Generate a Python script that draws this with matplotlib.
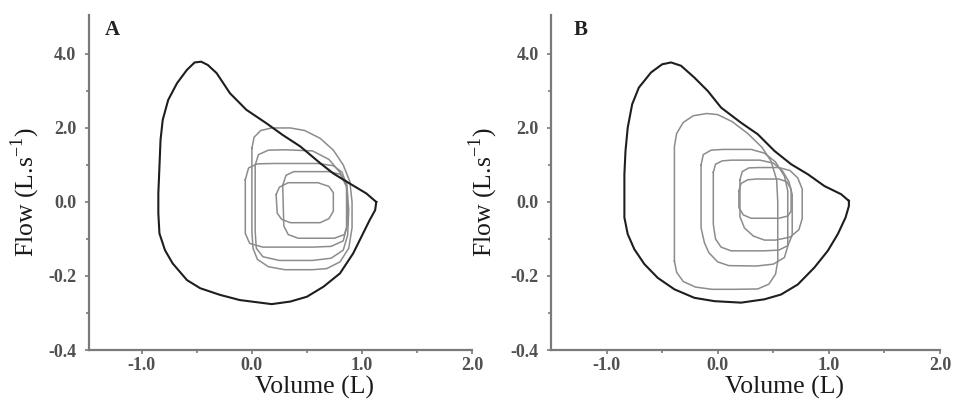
import matplotlib
matplotlib.use("Agg")
import matplotlib.pyplot as plt
from matplotlib.ticker import FixedLocator

plt.rcParams['font.family'] = ['Liberation Serif', 'DejaVu Serif']

# maximal flow-volume envelope (volume L, flow)
env_a_vol = [1.13, 1.04, 0.86, 0.74, 0.62, 0.44, 0.28, 0.13, -0.05, -0.20, -0.32, -0.40, -0.46, -0.52,
             -0.59, -0.68, -0.76, -0.81, -0.83, -0.84, -0.85, -0.85, -0.84, -0.79, -0.72, -0.59, -0.47,
             -0.29, -0.11, 0.18, 0.35, 0.50, 0.65, 0.80, 0.92, 1.01, 1.07, 1.12, 1.13]
env_a_flow = [0.0, 0.23, 0.55, 0.77, 1.05, 1.50, 1.81, 2.13, 2.49, 2.94, 3.48, 3.70, 3.79, 3.77,
              3.57, 3.21, 2.76, 2.22, 1.68, 0.95, 0.23, -0.31, -0.85, -1.30, -1.66, -2.11, -2.33,
              -2.51, -2.65, -2.76, -2.69, -2.56, -2.29, -1.93, -1.39, -0.85, -0.49, -0.22, 0.0]

env_b_vol = [1.18, 1.11, 0.96, 0.81, 0.66, 0.51, 0.36, 0.21, 0.03, -0.09, -0.21, -0.33, -0.42, -0.50,
             -0.60, -0.71, -0.77, -0.81, -0.83, -0.84, -0.84, -0.84, -0.81, -0.75, -0.66, -0.54, -0.39,
             -0.21, -0.03, 0.21, 0.42, 0.57, 0.72, 0.87, 0.99, 1.08, 1.15, 1.18, 1.18]
env_b_flow = [0.03, 0.21, 0.43, 0.75, 1.02, 1.38, 1.83, 2.14, 2.55, 3.00, 3.36, 3.68, 3.77, 3.72,
              3.50, 3.09, 2.64, 2.01, 1.38, 0.75, 0.03, -0.42, -0.87, -1.28, -1.68, -2.05, -2.36,
              -2.59, -2.68, -2.72, -2.63, -2.50, -2.23, -1.77, -1.32, -0.87, -0.42, -0.11, 0.03]

# tidal loops, panel A
a1_vol = [0.00, 0.02, 0.08, 0.18, 0.35, 0.48, 0.62, 0.74, 0.83, 0.89, 0.91, 0.91, 0.88, 0.80, 0.68,
          0.55, 0.30, 0.15, 0.05, 0.01, 0.00, 0.00]
a1_flow = [1.45, 1.75, 1.93, 2.00, 2.00, 1.93, 1.72, 1.40, 1.00, 0.55, 0.00, -0.70, -1.25, -1.62, -1.80,
           -1.83, -1.83, -1.75, -1.55, -1.25, -0.80, 1.45]
a2_vol = [0.03, 0.06, 0.15, 0.30, 0.55, 0.70, 0.80, 0.86, 0.88, 0.87, 0.83, 0.72, 0.55, 0.25, 0.10,
          0.04, 0.03, 0.03]
a2_flow = [1.00, 1.28, 1.40, 1.41, 1.38, 1.15, 0.80, 0.40, -0.20, -0.90, -1.30, -1.52, -1.58, -1.58,
           -1.48, -1.25, -0.80, 1.00]
a3_vol = [-0.06, -0.03, 0.05, 0.20, 0.60, 0.74, 0.82, 0.86, 0.86, 0.83, 0.72, 0.55, 0.10, -0.02,
          -0.06, -0.06]
a3_flow = [0.60, 0.92, 1.03, 1.04, 1.04, 0.98, 0.80, 0.45, -0.70, -1.05, -1.20, -1.22, -1.22, -1.12,
           -0.85, 0.60]
a4_vol = [0.28, 0.31, 0.38, 0.70, 0.80, 0.86, 0.87, 0.87, 0.84, 0.75, 0.42, 0.33, 0.29, 0.28]
a4_flow = [0.45, 0.72, 0.82, 0.82, 0.75, 0.55, 0.20, -0.60, -0.88, -0.98, -0.98, -0.88, -0.65, 0.45]
a5_vol = [0.22, 0.25, 0.33, 0.60, 0.70, 0.74, 0.74, 0.70, 0.62, 0.35, 0.27, 0.23, 0.22]
a5_flow = [0.20, 0.40, 0.52, 0.52, 0.42, 0.25, -0.25, -0.45, -0.56, -0.56, -0.47, -0.30, 0.20]

# tidal loops, panel B
b1_vol = [-0.39, -0.39, -0.37, -0.31, -0.22, -0.10, 0.00, 0.13, 0.27, 0.40, 0.48, 0.53, 0.54, 0.54,
          0.52, 0.46, 0.36, 0.15, -0.05, -0.20, -0.31, -0.37, -0.39]
b1_flow = [-1.60, 1.50, 1.85, 2.15, 2.33, 2.39, 2.36, 2.17, 1.85, 1.47, 1.10, 0.60, 0.00, -1.60,
           -1.95, -2.22, -2.35, -2.36, -2.36, -2.30, -2.15, -1.90, -1.60]
b2_vol = [-0.15, -0.13, -0.06, 0.05, 0.30, 0.42, 0.52, 0.60, 0.63, 0.63, 0.60, 0.50, 0.35, 0.10,
          0.00, -0.08, -0.12, -0.15, -0.15]
b2_flow = [1.00, 1.28, 1.40, 1.42, 1.42, 1.32, 1.08, 0.70, 0.30, -1.20, -1.50, -1.68, -1.73, -1.72,
           -1.62, -1.37, -1.10, -0.70, 1.00]
b3_vol = [-0.04, -0.02, 0.04, 0.12, 0.38, 0.50, 0.58, 0.64, 0.67, 0.67, 0.63, 0.55, 0.42, 0.12,
          0.03, -0.02, -0.04, -0.04]
b3_flow = [0.80, 1.02, 1.11, 1.13, 1.13, 1.05, 0.85, 0.55, 0.20, -0.90, -1.18, -1.30, -1.32, -1.32,
           -1.22, -1.00, -0.60, 0.80]
b4_vol = [0.20, 0.22, 0.28, 0.36, 0.55, 0.65, 0.72, 0.76, 0.76, 0.73, 0.65, 0.52, 0.42, 0.32, 0.24,
          0.20, 0.20]
b4_flow = [0.60, 0.82, 0.92, 0.93, 0.93, 0.85, 0.65, 0.35, -0.45, -0.75, -0.95, -1.03, -1.03, -0.92,
           -0.70, -0.40, 0.60]
b5_vol = [0.19, 0.21, 0.27, 0.35, 0.55, 0.62, 0.66, 0.66, 0.63, 0.55, 0.30, 0.23, 0.19, 0.19]
b5_flow = [0.30, 0.50, 0.60, 0.62, 0.62, 0.55, 0.35, -0.25, -0.38, -0.44, -0.44, -0.35, -0.15, 0.30]

x_ticks = [-1.0, 0.0, 1.0, 2.0]
x_ticklabels = ['-1.0', '0.0', '1.0', '2.0']
y_ticks = [-4, -2, 0, 2, 4]
y_ticklabels = ['-0.4', '-0.2', '0.0', '2.0', '4.0']

panels = [
    ('A', [0.0928, 0.140, 0.3994, 0.823], (-1.48, 2.0), env_a_vol, env_a_flow,
     [(a1_vol, a1_flow), (a2_vol, a2_flow), (a3_vol, a3_flow), (a4_vol, a4_flow), (a5_vol, a5_flow)],
     0.59, -0.123, 0.061),
    ('B', [0.5746, 0.140, 0.4056, 0.823], (-1.5, 2.0), env_b_vol, env_b_flow,
     [(b1_vol, b1_flow), (b2_vol, b2_flow), (b3_vol, b3_flow), (b4_vol, b4_flow), (b5_vol, b5_flow)],
     0.60, -0.131, 0.075),
]

fig = plt.figure(figsize=(9.59, 4.07), dpi=100)
axis_col = '#7a7a7a'

for letter, rect, xlim, ev, ef, loops, xlab_pos, ylab_pos, let_x in panels:
    ax = fig.add_axes(rect)
    for lv, lf in loops:
        ax.plot(lv, lf, color='#8c8c8c', lw=1.1, solid_joinstyle='round')
    ax.plot(ev, ef, color='#1e1e1e', lw=1.5, solid_joinstyle='round')

    ax.set_xlim(*xlim)
    ax.set_ylim(-4, 5.05)
    ax.xaxis.set_major_locator(FixedLocator(x_ticks))
    ax.set_xticklabels(x_ticklabels)
    ax.xaxis.set_minor_locator(FixedLocator([-0.5, 0.5, 1.5]))
    ax.yaxis.set_major_locator(FixedLocator(y_ticks))
    ax.set_yticklabels(y_ticklabels)
    ax.yaxis.set_minor_locator(FixedLocator([-3, -1, 1, 3]))

    for side in ['top', 'right']:
        ax.spines[side].set_visible(False)
    for side in ['left', 'bottom']:
        ax.spines[side].set_color(axis_col)
        ax.spines[side].set_linewidth(1.6)
    ax.tick_params(which='both', direction='out', color=axis_col, width=1.2)
    ax.tick_params(which='major', length=3, labelsize=13, labelcolor='#505050')
    ax.tick_params(axis='y', which='major', pad=6)
    ax.tick_params(axis='x', which='major', pad=2)
    ax.tick_params(which='minor', length=2.5)
    for lbl in ax.get_xticklabels() + ax.get_yticklabels():
        lbl.set_fontweight('bold')

    ax.set_xlabel('Volume (L)', fontsize=18.5, color='#1a1a1a')
    ax.xaxis.set_label_coords(xlab_pos, -0.078)
    ax.set_ylabel('Flow (L.s$^{\\mathregular{-1}}$)', fontsize=18.5, color='#1a1a1a')
    ax.yaxis.set_label_coords(ylab_pos, 0.47)
    ax.text(let_x, 0.955, letter, transform=ax.transAxes, fontsize=15, fontweight='bold',
            color='#222222', va='center', ha='center')

fig.savefig('out.png', dpi=100)
